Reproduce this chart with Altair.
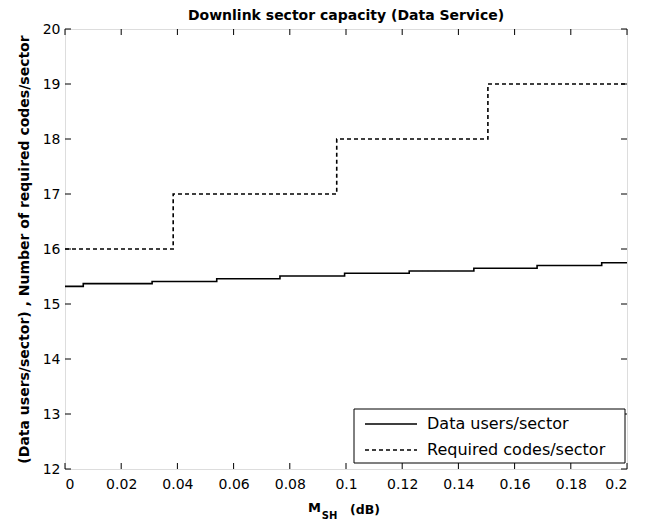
import altair as alt
import pandas as pd

# Data users/sector: step positions (dB) and levels
users_x = [0.0, 0.0065, 0.031, 0.054, 0.0765, 0.0995, 0.1225, 0.1455, 0.168, 0.191, 0.2]
users_y = [15.32, 15.37, 15.41, 15.46, 15.51, 15.56, 15.60, 15.65, 15.70, 15.75, 15.75]

# Required codes/sector
codes_x = [0.0, 0.0385, 0.0967, 0.1505, 0.2]
codes_y = [16, 17, 18, 19, 19]

x_ticks = [0, 0.02, 0.04, 0.06, 0.08, 0.1, 0.12, 0.14, 0.16, 0.18, 0.2]
y_ticks = [12, 13, 14, 15, 16, 17, 18, 19, 20]

series_names = ["Data users/sector", "Required codes/sector"]
series_dash = [[1, 0], [4, 3]]

FONT = "DejaVu Sans"
W, H = 562, 440

df = pd.concat([
    pd.DataFrame({"x": users_x, "y": users_y, "series": series_names[0]}),
    pd.DataFrame({"x": codes_x, "y": codes_y, "series": series_names[1]}),
])

xs = alt.Scale(domain=[0, 0.2], nice=False, zero=False)
ys = alt.Scale(domain=[12, 20], nice=False, zero=False)
dash_scale = alt.Scale(domain=series_names, range=series_dash)

lines = alt.Chart(df).mark_line(interpolate="step-after", color="black", strokeWidth=1.6).encode(
    x=alt.X("x:Q", scale=xs, axis=alt.Axis(values=x_ticks, format="~g", labelFontSize=14, labelFont=FONT,
                                           labelColor="black", domain=False, ticks=False, grid=False,
                                           labelPadding=8, title=None)),
    y=alt.Y("y:Q", scale=ys, axis=alt.Axis(values=y_ticks, labelFontSize=14, labelFont=FONT,
                                           labelColor="black", domain=False, ticks=False, grid=False,
                                           labelPadding=5,
                                           title="(Data users/sector)  ,  Number of required codes/sector",
                                           titleFont=FONT, titleFontSize=14, titleFontWeight="bold",
                                           titleColor="black", titlePadding=11)),
    strokeDash=alt.StrokeDash("series:N", scale=dash_scale, legend=None),
)

xt = pd.DataFrame({"t": x_ticks})
yt = pd.DataFrame({"t": y_ticks})

xtick_b = alt.Chart(xt).mark_rule(color="black", strokeWidth=1).encode(
    x=alt.X("t:Q", scale=xs), y=alt.value(H), y2=alt.value(H - 6))
xtick_t = alt.Chart(xt).mark_rule(color="black", strokeWidth=1).encode(
    x=alt.X("t:Q", scale=xs), y=alt.value(0), y2=alt.value(6))
ytick_l = alt.Chart(yt).mark_rule(color="black", strokeWidth=1).encode(
    y=alt.Y("t:Q", scale=ys), x=alt.value(0), x2=alt.value(6))
ytick_r = alt.Chart(yt).mark_rule(color="black", strokeWidth=1).encode(
    y=alt.Y("t:Q", scale=ys), x=alt.value(W), x2=alt.value(W - 6))

lab = pd.DataFrame({"a": [0]})
m_txt = alt.Chart(lab).mark_text(text="M", font=FONT, fontSize=13, fontWeight="bold",
                                 align="center", baseline="middle", color="black").encode(
    x=alt.value(249.5), y=alt.value(479))
sh_txt = alt.Chart(lab).mark_text(text="SH", font=FONT, fontSize=10, fontWeight="bold",
                                  align="center", baseline="middle", color="black").encode(
    x=alt.value(264.5), y=alt.value(487))
db_txt = alt.Chart(lab).mark_text(text="(dB)", font=FONT, fontSize=12.5, fontWeight="bold",
                                  align="center", baseline="middle", color="black").encode(
    x=alt.value(300), y=alt.value(481))

# legend (drawn as a boxed key)
LX, LY, LW, LH = 289, 380, 271, 54
leg_box = alt.Chart(lab).mark_rect(fill="white", stroke="black", strokeWidth=1).encode(
    x=alt.value(LX), x2=alt.value(LX + LW), y=alt.value(LY), y2=alt.value(LY + LH))
leg_items = []
for i, name in enumerate(series_names):
    yy = LY + 15 + 26 * i
    leg_items.append(alt.Chart(lab).mark_rule(color="black", strokeWidth=1.6, strokeDash=series_dash[i]).encode(
        x=alt.value(LX + 11), x2=alt.value(LX + 63), y=alt.value(yy)))
    leg_items.append(alt.Chart(lab).mark_text(text=name, font=FONT, fontSize=16, align="left",
                                              baseline="middle", color="black").encode(
        x=alt.value(LX + 73), y=alt.value(yy)))

chart = alt.layer(lines, xtick_b, xtick_t, ytick_l, ytick_r, m_txt, sh_txt, db_txt,
                  leg_box, *leg_items).properties(
    width=W, height=H,
    title=alt.TitleParams("Downlink sector capacity (Data Service)", font=FONT, fontSize=14,
                          fontWeight="bold", color="black", anchor="middle", offset=-1),
    autosize=alt.AutoSizeParams(type="none"),
    padding={"left": 57, "top": 21, "right": 20, "bottom": 56},
).configure_view(stroke="black", strokeWidth=1.5).configure(background="white")

chart.save("out.html", embed_options={"renderer": "svg", "actions": False})
